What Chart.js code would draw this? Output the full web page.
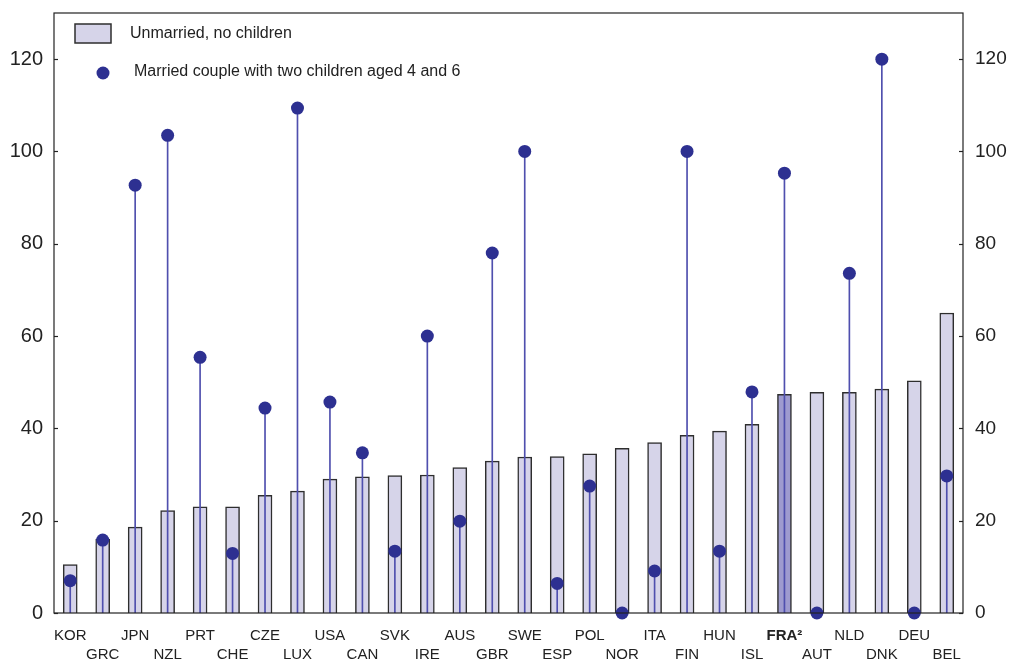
<!DOCTYPE html>
<html>
<head>
<meta charset="utf-8">
<script src="https://cdn.jsdelivr.net/npm/chart.js@4/dist/chart.umd.min.js"></script>
<style>
  html, body { margin: 0; padding: 0; background: #fff; }
  #wrap { width: 1011px; height: 659px; }
</style>
</head>
<body>
<div id="wrap"><canvas id="c" width="1011" height="659"></canvas></div>
<script>
// Countries, ordered by the unmarried/no-children value
const countries = ['KOR','GRC','JPN','NZL','PRT','CHE','CZE','LUX','USA','CAN','SVK','IRE','AUS','GBR',
                   'SWE','ESP','POL','NOR','ITA','FIN','HUN','ISL','FRA²','AUT','NLD','DNK','DEU','BEL'];
const unmarriedNoChildren = [10.5, 16, 18.6, 22.2, 23, 23, 25.5, 26.4, 29, 29.5, 29.8, 29.9, 31.5, 32.9,
                             33.8, 33.9, 34.5, 35.7, 36.9, 38.5, 39.4, 40.9, 47.4, 47.8, 47.8, 48.5, 50.3, 65];
const marriedTwoChildren = [7, 15.8, 92.7, 103.5, 55.4, 12.9, 44.4, 109.4, 45.7, 34.7, 13.4, 60, 19.9, 78,
                            100, 6.4, 27.5, 0, 9.1, 100, 13.4, 47.9, 95.3, 0, 73.6, 120, 0, 29.7];
const highlightCountry = 'FRA²';
const legendLabels = ['Unmarried, no children', 'Married couple with two children aged 4 and 6'];
const yMin = 0, yMax = 130, yStep = 20;

const FONT = '"Liberation Sans", Arial, Helvetica, sans-serif';
const TEXT = '#222';
const BAR_FILL = '#d6d4e9';
const BAR_FILL_HI = '#9e9bcf';
const BAR_EDGE = '#2e2e2e';
const DOT = '#2d3091';
const STEM = '#4f4fae';

// Alternate labels between two rows so they don't collide
const staggered = countries.map((c, i) => (i % 2 === 0 ? [c, ''] : ['', c]));

// Frame, inward tick marks and the in-plot legend
const framePlugin = {
  id: 'frame',
  afterDraw(chart) {
    const { ctx, chartArea: a } = chart;
    ctx.save();
    ctx.strokeStyle = '#222';
    ctx.lineWidth = 1.2;
    ctx.strokeRect(a.left, a.top, a.right - a.left, a.bottom - a.top);
    ['y', 'y2'].forEach(id => {
      const s = chart.scales[id];
      s.ticks.forEach(t => {
        const py = Math.round(s.getPixelForValue(t.value)) + 0.5;
        ctx.beginPath();
        if (id === 'y') { ctx.moveTo(a.left, py); ctx.lineTo(a.left + 4, py); }
        else { ctx.moveTo(a.right, py); ctx.lineTo(a.right - 4, py); }
        ctx.stroke();
      });
    });

    // legend
    ctx.font = '16px ' + FONT;
    ctx.textBaseline = 'middle';
    ctx.textAlign = 'left';
    ctx.fillStyle = BAR_FILL;
    ctx.fillRect(a.left + 21, a.top + 11, 36, 19);
    ctx.strokeStyle = BAR_EDGE;
    ctx.lineWidth = 1.5;
    ctx.strokeRect(a.left + 21, a.top + 11, 36, 19);
    ctx.fillStyle = TEXT;
    ctx.fillText(legendLabels[0], a.left + 76, a.top + 21);

    ctx.beginPath();
    ctx.fillStyle = DOT;
    ctx.arc(a.left + 49, a.top + 60, 6.5, 0, Math.PI * 2);
    ctx.fill();
    ctx.fillStyle = TEXT;
    ctx.fillText(legendLabels[1], a.left + 80, a.top + 59);
    ctx.restore();
  }
};

function fitY(width) {
  return (s) => { s.width = width; s.paddingTop = 0; s.paddingBottom = 0; };
}

new Chart(document.getElementById('c'), {
  data: {
    labels: staggered,
    datasets: [
      {
        type: 'line',
        label: legendLabels[1],
        data: marriedTwoChildren,
        showLine: false,
        pointRadius: 6.5,
        pointHoverRadius: 6.5,
        pointBackgroundColor: DOT,
        pointBorderWidth: 0,
        clip: false,
        order: 0
      },
      {
        type: 'bar',
        label: 'stems',
        data: marriedTwoChildren.map(v => [0, v]),
        backgroundColor: STEM,
        borderWidth: 0,
        barThickness: 1,
        grouped: false,
        order: 1
      },
      {
        type: 'bar',
        label: legendLabels[0],
        data: unmarriedNoChildren,
        backgroundColor: countries.map(c => (c === highlightCountry ? BAR_FILL_HI : BAR_FILL)),
        borderColor: BAR_EDGE,
        borderWidth: 1.5,
        barThickness: 14,
        grouped: false,
        order: 2
      }
    ]
  },
  options: {
    responsive: false,
    animation: false,
    layout: { padding: { top: 13, left: 0, right: 0, bottom: 0 } },
    plugins: { legend: { display: false }, tooltip: { enabled: false } },
    scales: {
      x: {
        grid: { display: false, drawTicks: false },
        border: { display: false },
        afterFit(s) { s.height = 46; s.paddingLeft = 0; s.paddingRight = 0; },
        ticks: {
          autoSkip: false,
          maxRotation: 0,
          minRotation: 0,
          padding: 13,
          color: TEXT,
          font: (ctx) => ({
            family: FONT,
            size: 15,
            lineHeight: 1.2667,
            weight: countries[ctx.index] === highlightCountry ? 'bold' : 'normal'
          })
        }
      },
      y: {
        position: 'left',
        min: yMin, max: yMax,
        grid: { display: false, drawTicks: false },
        border: { display: false },
        afterFit: fitY(54),
        ticks: { stepSize: yStep, includeBounds: false, padding: 11, color: TEXT, font: { family: FONT, size: 20 } }
      },
      y2: {
        position: 'right',
        min: yMin, max: yMax,
        grid: { display: false, drawTicks: false },
        border: { display: false },
        afterFit: fitY(48),
        ticks: { stepSize: yStep, includeBounds: false, padding: 12, color: TEXT, font: { family: FONT, size: 19 } }
      }
    }
  },
  plugins: [framePlugin]
});
</script>
</body>
</html>
